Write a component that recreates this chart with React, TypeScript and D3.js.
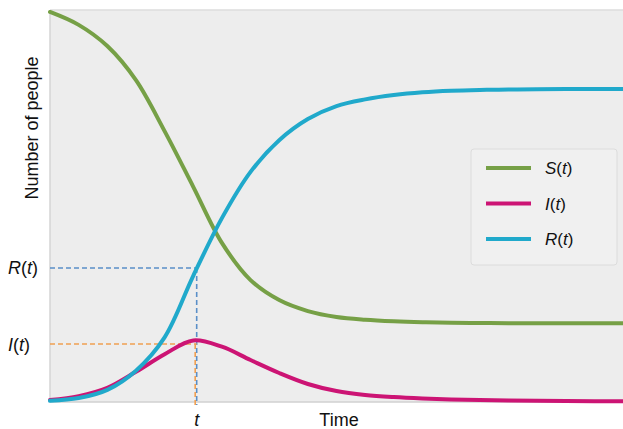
import React from "react";
import * as d3 from "d3";

const times = [0, 5, 10, 15, 20, 25, 30, 35, 40, 45, 50, 55, 60, 65, 70, 75, 80, 85, 90, 95, 100];
const susceptible = [995, 962, 908, 821, 691, 549, 406, 311, 260, 232, 217, 210, 206, 203.5, 202, 201.5, 201, 201, 201, 201, 201];
const infected = [5, 15, 36, 77, 122, 157, 141, 107, 74, 46, 28, 18, 12.5, 9, 6.6, 5.1, 4, 3.2, 2.6, 2.1, 1.7];
const recovered = [3, 10, 31, 80, 165, 322, 469, 587, 668, 722, 755, 772, 783, 790, 794, 796, 797, 798, 798.5, 798.5, 798.5];

const markerT = 25.6;
const markerR = 342;
const markerI = 148;

const seriesNames = ["S", "I", "R"];
const seriesColors = ["#76a046", "#cc1474", "#20a9cb"];

const W = 623;
const H = 429;
const left = 50;
const right = 623;
const top = 10;
const bottom = 402;

export default function App() {
  const x = d3.scaleLinear().domain([0, 100]).range([left, right]);
  const y = d3.scaleLinear().domain([0, 1000]).range([bottom, top]);
  const line = d3
    .line<number>()
    .x((_, i) => x(times[i]))
    .y((d) => y(d))
    .curve(d3.curveCatmullRom.alpha(0.5));
  const all = [susceptible, infected, recovered];
  const font = "'Liberation Sans', Arial, Helvetica, sans-serif";
  const lx = 471;
  const ly = 149;
  return (
    <svg
      width={W}
      height={H}
      style={{ position: "absolute", left: 0, top: 0, background: "#fff" }}
      fontFamily={font}
    >
      <rect x={left} y={top} width={right - left} height={bottom - top} fill="#ededed" />
      <line x1={left} x2={right} y1={top} y2={top} stroke="#dcdcdc" strokeWidth={1.5} />
      <line x1={left} x2={left} y1={top} y2={bottom} stroke="#d4d4d4" strokeWidth={1.5} />
      <line x1={left} x2={right} y1={bottom} y2={bottom} stroke="#d0d0d0" strokeWidth={1.5} />
      {/* guide lines */}
      <line x1={left} x2={x(markerT)} y1={y(markerR)} y2={y(markerR)} stroke="#5a8fc8" strokeWidth={1.6} strokeDasharray="5,3" />
      <line x1={x(markerT)} x2={x(markerT)} y1={y(markerR)} y2={bottom + 3} stroke="#5a8fc8" strokeWidth={1.6} strokeDasharray="5,3" />
      <line x1={left} x2={x(markerT)} y1={y(markerI)} y2={y(markerI)} stroke="#f0a052" strokeWidth={1.6} strokeDasharray="5,3" />
      <line x1={x(markerT) - 1.5} x2={x(markerT) - 1.5} y1={y(markerI)} y2={bottom + 3} stroke="#f0a052" strokeWidth={1.6} strokeDasharray="5,3" />
      {all.map((d, i) => (
        <path key={i} d={line(d) || ""} fill="none" stroke={seriesColors[i]} strokeWidth={4} strokeLinecap="round" />
      ))}
      {/* legend */}
      <rect x={lx} y={ly} width={146} height={116} rx={3} fill="#f0f0f0" stroke="#dcdcdc" />
      {seriesNames.map((n, i) => {
        const yy = ly + 19 + i * 35.5;
        return (
          <g key={n}>
            <line x1={lx + 15} x2={lx + 60} y1={yy} y2={yy} stroke={seriesColors[i]} strokeWidth={4} />
            <text x={lx + 74} y={yy + 6} fontSize={17} fill="#111">
              <tspan fontStyle="italic">{n}</tspan>(<tspan fontStyle="italic">t</tspan>)
            </text>
          </g>
        );
      })}
      {/* axis labels */}
      <text x={8} y={y(markerR) + 6} fontSize={18} fill="#111">
        <tspan fontStyle="italic">R</tspan>(<tspan fontStyle="italic">t</tspan>)
      </text>
      <text x={8} y={y(markerI) + 7} fontSize={18} fill="#111">
        <tspan fontStyle="italic">I</tspan>(<tspan fontStyle="italic">t</tspan>)
      </text>
      <text x={x(markerT)} y={426} fontSize={18} fill="#111" textAnchor="middle" fontStyle="italic">t</text>
      <text x={339} y={426} fontSize={18} fill="#111" textAnchor="middle">Time</text>
      <text
        transform={`translate(38, 128) rotate(-90)`}
        fontSize={18}
        fill="#111"
        textAnchor="middle"
      >
        Number of people
      </text>
    </svg>
  );
}
